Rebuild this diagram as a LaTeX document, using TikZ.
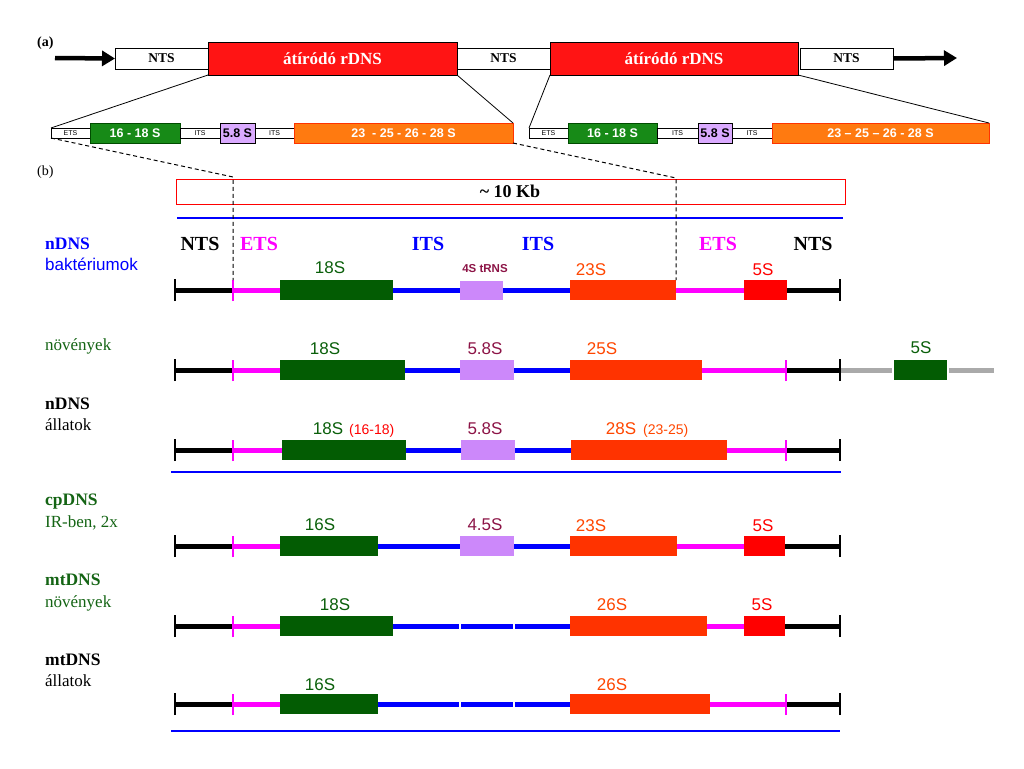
\documentclass[tikz,border=0pt]{standalone}
\usepackage{fontspec}
\setmainfont{Liberation Serif}
\setsansfont{Liberation Sans}
\usetikzlibrary{arrows.meta}
\definecolor{dg}{RGB}{3,92,3}
\definecolor{dgt}{RGB}{10,95,10}
\definecolor{tg}{RGB}{23,138,23}
\definecolor{lav}{RGB}{204,136,250}
\definecolor{tlav}{RGB}{218,170,255}
\definecolor{org}{RGB}{255,51,0}
\definecolor{orgt}{RGB}{255,70,0}
\definecolor{torg}{RGB}{255,122,16}
\definecolor{tred}{RGB}{255,20,20}
\definecolor{maroon}{RGB}{140,20,70}
\definecolor{lgreen}{RGB}{20,100,20}
\definecolor{gry}{RGB}{170,170,170}
\definecolor{mag}{RGB}{255,0,255}
\begin{document}
\begin{tikzpicture}[x=1pt,y=-1pt,
  seg/.style={rectangle,inner sep=0pt,outer sep=0pt,minimum height=20pt,anchor=west,draw=none},
  ln/.style={line width=5pt,draw=#1},
  tick/.style={line width=2.2pt,draw=#1},
  tbox/.style={rectangle,draw=black,line width=0.8pt,inner sep=0pt,outer sep=0pt,anchor=north west,fill=white},
  tlab/.style={font=\bfseries\fontsize{13.5}{13.5}\selectfont},
  slab/.style={font=\sffamily\fontsize{7}{7}\selectfont},
  glab/.style={font=\sffamily\bfseries\fontsize{12.5}{12.5}\selectfont},
  hdr/.style={font=\bfseries\fontsize{20}{20}\selectfont,inner sep=0pt,anchor=base},
  lab/.style={font=\sffamily\fontsize{17}{17}\selectfont,inner sep=0pt,anchor=base},
  sml/.style={font=\sffamily\fontsize{14}{14}\selectfont,inner sep=0pt,anchor=base west},
  side/.style={font=\fontsize{17}{17}\selectfont,inner sep=0pt,anchor=base west},
  sideb/.style={font=\bfseries\fontsize{17.5}{17.5}\selectfont,inner sep=0pt,anchor=base west},
  sides/.style={font=\sffamily\fontsize{17}{17}\selectfont,inner sep=0pt,anchor=base west},
  dsh/.style={dash pattern=on 4pt off 3pt,line width=1pt},
  sep/.style={draw=blue,line width=1.5pt}
]
\useasboundingbox (0,0) rectangle (1024,768);

% ---------------- (a) ----------------
\node[font=\bfseries\fontsize{14}{14}\selectfont,anchor=base west,inner sep=0pt] (la) at (37,47) {(a)};
\node[tbox,minimum width=93pt,minimum height=21pt,tlab] (nts1) at (115,48) {NTS};
\node[tbox,minimum width=249pt,minimum height=33pt,fill=tred,text=white,font=\bfseries\fontsize{17}{17}\selectfont] (red1) at (208,42) {átíródó rDNS};
\node[tbox,minimum width=93pt,minimum height=21pt,tlab] (nts2) at (457,48) {NTS};
\node[tbox,minimum width=248pt,minimum height=33pt,fill=tred,text=white,font=\bfseries\fontsize{17}{17}\selectfont] (red2) at (550,42) {átíródó rDNS};
\node[tbox,minimum width=93pt,minimum height=21pt,tlab] (nts3) at (800,48) {NTS};
\coordinate (arrL) at (55,58);
\coordinate (arrR) at (957,58);
\draw[line width=4.5pt,-{Triangle[length=13pt,width=15pt]}] (arrL) -- (nts1.west);
\draw[line width=4.5pt,-{Triangle[length=13pt,width=15pt]}] (nts3.east) -- (arrR);

% left expansion
\node[tbox,minimum width=39pt,minimum height=10pt,slab] (ets1) at (51,128) {ETS};
\node[tbox,minimum width=90pt,minimum height=20pt,fill=tg,text=white,glab,draw=black!70!green] (g1) at (90,123) {16 - 18 S};
\node[tbox,minimum width=40pt,minimum height=10pt,slab] (its1) at (180,128) {ITS};
\node[tbox,minimum width=35pt,minimum height=20pt,fill=tlav,glab] (l1) at (220,123) {5.8 S};
\node[tbox,minimum width=39pt,minimum height=10pt,slab] (its2) at (255,128) {ITS};
\node[tbox,minimum width=219pt,minimum height=20pt,fill=torg,draw=org,text=white,glab] (o1) at (294,123) {23\ \ - 25 - 26 - 28 S};
% right expansion
\node[tbox,minimum width=39pt,minimum height=10pt,slab] (ets2) at (529,128) {ETS};
\node[tbox,minimum width=89pt,minimum height=20pt,fill=tg,text=white,glab,draw=black!70!green] (g2) at (568,123) {16 - 18 S};
\node[tbox,minimum width=41pt,minimum height=10pt,slab] (its3) at (657,128) {ITS};
\node[tbox,minimum width=34pt,minimum height=20pt,fill=tlav,glab] (l2) at (698,123) {5.8 S};
\node[tbox,minimum width=40pt,minimum height=10pt,slab] (its4) at (732,128) {ITS};
\node[tbox,minimum width=217pt,minimum height=20pt,fill=torg,draw=org,text=white,glab] (o2) at (772,123) {23 -- 25 -- 26 - 28 S};

\draw[line width=0.8pt] (red1.south west) -- (ets1.north west);
\draw[line width=0.8pt] (red1.south east) -- (o1.north east);
\draw[line width=0.8pt] (red2.south west) -- (ets2.north west);
\draw[line width=0.8pt] (red2.south east) -- (o2.north east);

% ---------------- (b) ----------------
\node[font=\fontsize{14}{14}\selectfont,anchor=base west,inner sep=0pt] (lb) at (37,175) {(b)};
\node[rectangle,draw=red,line width=1.2pt,minimum width=669pt,minimum height=25pt,inner sep=0pt,anchor=north west] (kb) at (176,179) {};
\node[font=\bfseries\fontsize{18}{18}\selectfont,inner sep=0pt] (kbt) at (510,191) {\textasciitilde\ 10 Kb};
\coordinate (bl1a) at (177,218); \coordinate (bl1b) at (843,218);
\draw[sep] (bl1a) -- (bl1b);

% header labels
\node[hdr] (h1) at (200,250) {NTS};
\node[hdr,text=mag] (h2) at (259,250) {ETS};
\node[hdr,text=blue] (h3) at (428,250) {ITS};
\node[hdr,text=blue] (h4) at (538,250) {ITS};
\node[hdr,text=mag] (h5) at (718,250) {ETS};
\node[hdr] (h6) at (813,250) {NTS};

% side labels
\node[sideb,text=blue] (s1) at (45,249) {nDNS};
\node[sides,text=blue] (s2) at (45,270) {baktériumok};
\node[side,text=lgreen] (s3) at (45,350) {növények};
\node[sideb] (s4) at (45,409) {nDNS};
\node[side] (s5) at (45,430) {állatok};
\node[sideb,text=lgreen] (s6) at (45,505) {cpDNS};
\node[side,text=lgreen] (s7) at (45,527) {IR-ben, 2x};
\node[sideb,text=lgreen] (s8) at (45,585) {mtDNS};
\node[side,text=lgreen] (s9) at (45,607) {növények};
\node[sideb] (s10) at (45,665) {mtDNS};
\node[side] (s11) at (45,686) {állatok};

% ---- row 1 ----
\coordinate (r1a) at (175,290); \coordinate (r1b) at (233,290); \coordinate (r1d) at (840,290);
\node[seg,fill=dg,minimum width=113pt] (r1g) at (280,290) {};
\node[seg,fill=lav,minimum width=43pt,minimum height=19pt] (r1l) at (460,290) {};
\node[seg,fill=org,minimum width=106pt] (r1o) at (570,290) {};
\node[seg,fill=red,minimum width=43pt] (r1r) at (744,290) {};
\draw[ln=black] (r1a) -- (r1b);
\draw[ln=mag] (r1b) -- (r1g.west);
\draw[ln=blue] (r1g.east) -- (r1l.west);
\draw[ln=blue] (r1l.east) -- (r1o.west);
\draw[ln=mag] (r1o.east) -- (r1r.west);
\draw[ln=black] (r1r.east) -- (r1d);
\draw[tick=black] ([yshift=-11pt]r1a) -- ([yshift=11pt]r1a);
\draw[tick=mag] ([yshift=-11pt]r1b) -- ([yshift=10pt]r1b);
\draw[tick=black] ([yshift=-11pt]r1d) -- ([yshift=11pt]r1d);
\node[lab,text=dgt] (t11) at (330,273) {18S};
\node[lab,text=maroon,font=\sffamily\bfseries\fontsize{11.5}{11.5}\selectfont] (t12) at (485,272) {4S tRNS};
\node[lab,text=orgt] (t13) at (591,275) {23S};
\node[lab,text=red] (t14) at (763,275) {5S};

% dashed guides
\coordinate (dl) at (233,177);
\coordinate (dr) at (676,178);
\draw[dsh] (ets1.south west) -- (dl) -- ([yshift=10pt]r1b);
\draw[dsh] (o1.south east) -- (dr) -- (r1o.north east);

% ---- row 2 ----
\coordinate (r2a) at (175,370); \coordinate (r2b) at (233,370); \coordinate (r2c) at (786,370); \coordinate (r2d) at (840,370); \coordinate (r2e) at (994,370);
\node[seg,fill=dg,minimum width=125pt] (r2g) at (280,370) {};
\node[seg,fill=lav,minimum width=54pt] (r2l) at (460,370) {};
\node[seg,fill=org,minimum width=132pt] (r2o) at (570,370) {};
\node[seg,fill=dg,minimum width=53pt] (r2f) at (894,370) {};
\draw[ln=black] (r2a) -- (r2b);
\draw[ln=mag] (r2b) -- (r2g.west);
\draw[ln=blue] (r2g.east) -- (r2l.west);
\draw[ln=blue] (r2l.east) -- (r2o.west);
\draw[ln=mag] (r2o.east) -- (r2c);
\draw[ln=black] (r2c) -- (r2d);
\draw[ln=gry] (r2d) -- ([xshift=-2pt]r2f.west);
\draw[ln=gry] ([xshift=2pt]r2f.east) -- (r2e);
\draw[tick=black] ([yshift=-11pt]r2a) -- ([yshift=11pt]r2a);
\draw[tick=mag] ([yshift=-11pt]r2b) -- ([yshift=10pt]r2b);
\draw[tick=mag] ([yshift=-11pt]r2c) -- ([yshift=10pt]r2c);
\draw[tick=black] ([yshift=-11pt]r2d) -- ([yshift=11pt]r2d);
\node[lab,text=dgt] (t21) at (325,354) {18S};
\node[lab,text=maroon] (t22) at (485,354) {5.8S};
\node[lab,text=orgt] (t23) at (602,354) {25S};
\node[lab,text=dgt] (t24) at (921,353) {5S};

% ---- row 3 ----
\coordinate (r3a) at (175,450); \coordinate (r3b) at (233,450); \coordinate (r3c) at (786,450); \coordinate (r3d) at (840,450);
\node[seg,fill=dg,minimum width=124pt] (r3g) at (282,450) {};
\node[seg,fill=lav,minimum width=54pt] (r3l) at (461,450) {};
\node[seg,fill=org,minimum width=156pt] (r3o) at (571,450) {};
\draw[ln=black] (r3a) -- (r3b);
\draw[ln=mag] (r3b) -- (r3g.west);
\draw[ln=blue] (r3g.east) -- (r3l.west);
\draw[ln=blue] (r3l.east) -- (r3o.west);
\draw[ln=mag] (r3o.east) -- (r3c);
\draw[ln=black] (r3c) -- (r3d);
\draw[tick=black] ([yshift=-11pt]r3a) -- ([yshift=11pt]r3a);
\draw[tick=mag] ([yshift=-11pt]r3b) -- ([yshift=10pt]r3b);
\draw[tick=mag] ([yshift=-11pt]r3c) -- ([yshift=10pt]r3c);
\draw[tick=black] ([yshift=-11pt]r3d) -- ([yshift=11pt]r3d);
\node[lab,text=dgt] (t31) at (328,434) {18S};
\node[sml,text=red] (t32) at (349,434) {(16-18)};
\node[lab,text=maroon] (t33) at (485,434) {5.8S};
\node[lab,text=orgt] (t34) at (621,434) {28S};
\node[sml,text=orgt] (t35) at (643,434) {(23-25)};
\coordinate (bl2a) at (171,472); \coordinate (bl2b) at (841,472);
\draw[sep] (bl2a) -- (bl2b);

% ---- row 4 ----
\coordinate (r4a) at (175,546); \coordinate (r4b) at (233,546); \coordinate (r4d) at (840,546);
\node[seg,fill=dg,minimum width=98pt] (r4g) at (280,546) {};
\node[seg,fill=lav,minimum width=54pt] (r4l) at (460,546) {};
\node[seg,fill=org,minimum width=107pt] (r4o) at (570,546) {};
\node[seg,fill=red,minimum width=41pt] (r4r) at (744,546) {};
\draw[ln=black] (r4a) -- (r4b);
\draw[ln=mag] (r4b) -- (r4g.west);
\draw[ln=blue] (r4g.east) -- (r4l.west);
\draw[ln=blue] (r4l.east) -- (r4o.west);
\draw[ln=mag] (r4o.east) -- (r4r.west);
\draw[ln=black] (r4r.east) -- (r4d);
\draw[tick=black] ([yshift=-11pt]r4a) -- ([yshift=11pt]r4a);
\draw[tick=mag] ([yshift=-11pt]r4b) -- ([yshift=10pt]r4b);
\draw[tick=black] ([yshift=-11pt]r4d) -- ([yshift=11pt]r4d);
\node[lab,text=dgt] (t41) at (320,530) {16S};
\node[lab,text=maroon] (t42) at (485,530) {4.5S};
\node[lab,text=orgt] (t43) at (591,531) {23S};
\node[lab,text=red] (t44) at (763,531) {5S};

% ---- row 5 ----
\coordinate (r5a) at (175,626); \coordinate (r5b) at (233,626); \coordinate (r5d) at (840,626);
\node[seg,fill=dg,minimum width=113pt] (r5g) at (280,626) {};
\node[seg,fill=org,minimum width=137pt] (r5o) at (570,626) {};
\node[seg,fill=red,minimum width=41pt] (r5r) at (744,626) {};
\draw[ln=black] (r5a) -- (r5b);
\draw[ln=mag] (r5b) -- (r5g.west);
\draw[ln=blue] (r5g.east) -- (r5o.west);
\draw[white,line width=1.5pt] (460,620) -- (460,632);
\draw[white,line width=1.5pt] (514,620) -- (514,632);
\draw[ln=mag] (r5o.east) -- (r5r.west);
\draw[ln=black] (r5r.east) -- (r5d);
\draw[tick=black] ([yshift=-11pt]r5a) -- ([yshift=11pt]r5a);
\draw[tick=mag] ([yshift=-11pt]r5b) -- ([yshift=10pt]r5b);
\draw[tick=black] ([yshift=-11pt]r5d) -- ([yshift=11pt]r5d);
\node[lab,text=dgt] (t51) at (335,610) {18S};
\node[lab,text=orgt] (t52) at (612,610) {26S};
\node[lab,text=red] (t53) at (762,610) {5S};

% ---- row 6 ----
\coordinate (r6a) at (175,704); \coordinate (r6b) at (233,704); \coordinate (r6c) at (786,704); \coordinate (r6d) at (840,704);
\node[seg,fill=dg,minimum width=98pt] (r6g) at (280,704) {};
\node[seg,fill=org,minimum width=140pt] (r6o) at (570,704) {};
\draw[ln=black] (r6a) -- (r6b);
\draw[ln=mag] (r6b) -- (r6g.west);
\draw[ln=blue] (r6g.east) -- (r6o.west);
\draw[white,line width=1.5pt] (460,698) -- (460,710);
\draw[white,line width=1.5pt] (514,698) -- (514,710);
\draw[ln=mag] (r6o.east) -- (r6c);
\draw[ln=black] (r6c) -- (r6d);
\draw[tick=black] ([yshift=-11pt]r6a) -- ([yshift=11pt]r6a);
\draw[tick=mag] ([yshift=-11pt]r6b) -- ([yshift=10pt]r6b);
\draw[tick=mag] ([yshift=-11pt]r6c) -- ([yshift=10pt]r6c);
\draw[tick=black] ([yshift=-11pt]r6d) -- ([yshift=11pt]r6d);
\node[lab,text=dgt] (t61) at (320,690) {16S};
\node[lab,text=orgt] (t62) at (612,690) {26S};
\coordinate (bl3a) at (171,731); \coordinate (bl3b) at (840,731);
\draw[sep] (bl3a) -- (bl3b);
\end{tikzpicture}
\end{document}
